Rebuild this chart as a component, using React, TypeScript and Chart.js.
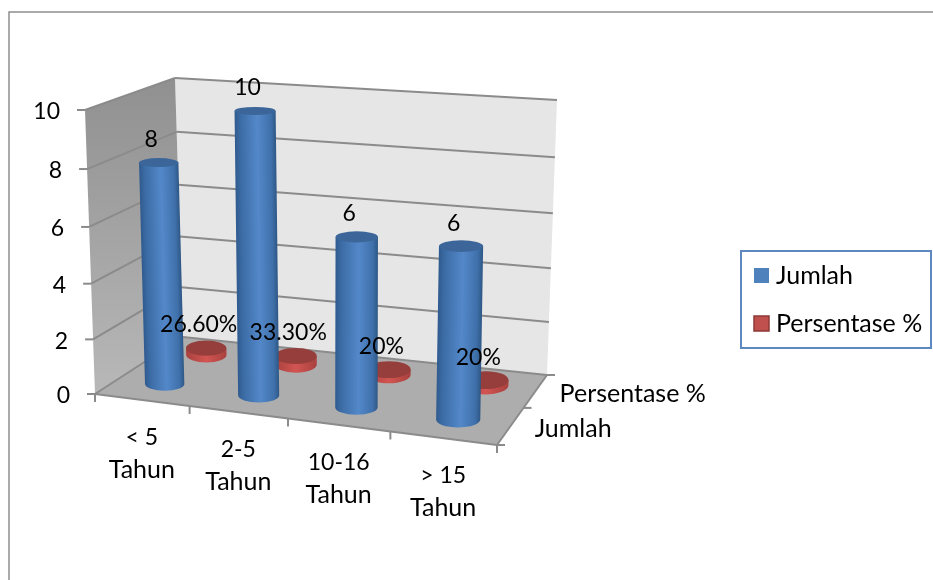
import React, { useEffect, useRef } from "react";
import { Chart, registerables } from "chart.js";

Chart.register(...registerables);

// Chart values
const categories = [["< 5", "Tahun"], ["2-5", "Tahun"], ["10-16", "Tahun"], ["> 15", "Tahun"]];
const jumlah = [8, 10, 6, 6];
const persentase = [0.266, 0.333, 0.2, 0.2];
const jumlahLabels = ["8", "10", "6", "6"];
const persentaseLabels = ["26.60%", "33.30%", "20%", "20%"];
const seriesNames = ["Jumlah", "Persentase %"];

const FONT = "Lato, 'Open Sans', sans-serif";
const LINE = "#8b8b8b";

// Corners of the 3D plot box on the canvas: front/back, left/right, bottom/top.
const BOX = {
  fbl: [95, 394], fbr: [497, 445], bbl: [183, 337], bbr: [547, 375],
  ftl: [85, 110], ftr: [503, 139], btl: [175, 78], btr: [557, 100],
};

// Foreshortening along each axis of the box.
const warp = (t: number, r: number) => t / (t + (1 - t) * r);
const lerp = (a: number, b: number, t: number) => a + (b - a) * t;
const mix = (p: number[], q: number[], t: number) => [lerp(p[0], q[0], t), lerp(p[1], q[1], t)];

// u: along categories, v: up the value axis, w: into the depth; all 0..1.
function project(u: number, v: number, w: number) {
  const U = warp(u, 1.083);
  const V = warp(v, 1.05);
  const W = warp(w, 0.887);
  const front = mix(mix(BOX.fbl, BOX.fbr, U), mix(BOX.ftl, BOX.ftr, U), V);
  const back = mix(mix(BOX.bbl, BOX.bbr, U), mix(BOX.btl, BOX.btr, U), V);
  return mix(front, back, W);
}

function poly(ctx: CanvasRenderingContext2D, pts: number[][]) {
  ctx.beginPath();
  pts.forEach((p, i) => (i ? ctx.lineTo(p[0], p[1]) : ctx.moveTo(p[0], p[1])));
  ctx.closePath();
}

function line(ctx: CanvasRenderingContext2D, a: number[], b: number[]) {
  ctx.beginPath();
  ctx.moveTo(a[0], a[1]);
  ctx.lineTo(b[0], b[1]);
  ctx.stroke();
}

type Palette = { cap: string; depth: number; stops: [number, string][] };
const BLUE: Palette = {
  cap: "#3c6699",
  depth: 0.11,
  stops: [[0, "#2f5a8e"], [0.14, "#3c6ca5"], [0.55, "#5388c9"], [0.88, "#3f70aa"], [1, "#2e5786"]],
};
const RED: Palette = {
  cap: "#953e3b",
  depth: 0.14,
  stops: [[0, "#a8413e"], [0.5, "#d25552"], [1, "#a8413e"]],
};

// A cylinder standing at (u, w) between the value positions vBase and vTop.
function drawCylinder(ctx: CanvasRenderingContext2D, u: number, du: number, w: number, vBase: number, vTop: number, pal: Palette) {
  const radii = (v: number) => ({
    c: project(u, v, w),
    rx: Math.abs(project(u + du, v, w)[0] - project(u - du, v, w)[0]) / 2,
    ry: Math.abs(project(u, v, w - pal.depth)[1] - project(u, v, w + pal.depth)[1]) / 2,
  });
  const b = radii(vBase);
  const t = radii(vTop);
  const h = b.c[1] - t.c[1];
  const rx = (b.rx + t.rx) / 2;
  const shear = (b.c[0] - t.c[0]) / h;

  ctx.save();
  ctx.translate(b.c[0], b.c[1]);
  ctx.transform(1, 0, shear, 1, 0, 0);
  const g = ctx.createLinearGradient(-rx, 0, rx, 0);
  pal.stops.forEach(([o, c]) => g.addColorStop(o, c));
  ctx.fillStyle = g;
  ctx.beginPath();
  ctx.moveTo(-rx, -h);
  ctx.lineTo(-rx, 0);
  ctx.ellipse(0, 0, rx, b.ry, 0, Math.PI, 0, true);
  ctx.lineTo(rx, -h);
  ctx.closePath();
  ctx.fill();
  ctx.fillStyle = pal.cap;
  ctx.beginPath();
  ctx.ellipse(0, -h, rx, t.ry, 0, 0, Math.PI * 2);
  ctx.fill();
  ctx.restore();
}

// Words run a little larger than numerals so their widths stay balanced.
function text(ctx: CanvasRenderingContext2D, s: string, x: number, y: number, align: CanvasTextAlign = "center") {
  ctx.font = `${/[A-Za-z]/.test(s) ? 25 : 23}px ${FONT}`;
  ctx.textAlign = align;
  ctx.textBaseline = "middle";
  ctx.fillText(s, x, y);
}

const box3d = {
  id: "box3d",
  // Outer frame, walls, floor, gridlines, axes and columns. Returning false
  // replaces the flat bars with the cylinders drawn here.
  beforeDatasetsDraw(chart: any) {
    const ctx: CanvasRenderingContext2D = chart.ctx;
    const yScale = chart.scales.y;
    const n = chart.data.labels.length;
    const toV = (val: number) => (val - yScale.min) / (yScale.max - yScale.min);

    ctx.save();
    ctx.strokeStyle = "#8e8e8e";
    ctx.lineWidth = 1.5;
    ctx.beginPath();
    ctx.moveTo(9, 580);
    ctx.lineTo(9, 12);
    ctx.lineTo(933, 12);
    ctx.stroke();

    ctx.fillStyle = "#e6e6e6";
    poly(ctx, [BOX.btl, BOX.btr, BOX.bbr, BOX.bbl]);
    ctx.fill();

    const wall = ctx.createLinearGradient(0, 78, 0, 394);
    wall.addColorStop(0, "#909090");
    wall.addColorStop(1, "#b8b8b8");
    ctx.fillStyle = wall;
    poly(ctx, [BOX.ftl, BOX.btl, BOX.bbl, BOX.fbl]);
    ctx.fill();

    ctx.fillStyle = "#adadad";
    poly(ctx, [BOX.fbl, BOX.fbr, BOX.bbr, BOX.bbl]);
    ctx.fill();

    ctx.strokeStyle = LINE;
    ctx.lineWidth = 2;
    yScale.ticks.forEach((tick: any) => {
      const v = toV(tick.value);
      const front = project(0, v, 0);
      line(ctx, [front[0] - 8, front[1]], front);
      line(ctx, front, project(0, v, 1));
      line(ctx, project(0, v, 1), project(1, v, 1));
    });
    line(ctx, project(0, 0, 0), project(1, 0, 0));
    line(ctx, project(1, 0, 0), project(1, 0, 1));
    for (let i = 0; i <= n; i++) {
      const p = project(i / n, 0, 0);
      line(ctx, p, [p[0], p[1] + 8]);
    }
    [0, 0.5, 1].forEach((w) => {
      const p = project(1, 0, w);
      line(ctx, p, [p[0] + 8, p[1]]);
    });

    // The depth rows are painted back to front.
    const area = chart.chartArea;
    [1, 0].forEach((ds) => {
      const w = (ds + 0.5) / 2;
      const pal = ds === 0 ? BLUE : RED;
      chart.getDatasetMeta(ds).data.forEach((el: any) => {
        const u = (el.x - area.left) / area.width;
        const du = el.width / area.width / 2;
        drawCylinder(ctx, u, du, w, (area.bottom - el.base) / area.height, (area.bottom - el.y) / area.height, pal);
      });
    });
    ctx.restore();
    return false;
  },
  // Axis text, value labels and legend above everything else.
  afterDraw(chart: any) {
    const ctx: CanvasRenderingContext2D = chart.ctx;
    const yScale = chart.scales.y;
    const area = chart.chartArea;
    const n = chart.data.labels.length;
    ctx.save();
    ctx.fillStyle = "#000";

    yScale.ticks.forEach((tick: any) => {
      const p = project(0, (tick.value - yScale.min) / (yScale.max - yScale.min), 0);
      text(ctx, String(tick.value), p[0] - 25, p[1] + 2, "right");
    });

    chart.data.labels.forEach((lab: string[], i: number) => {
      const p = project((i + 0.5) / n, 0, 0);
      lab.forEach((s, k) => text(ctx, s, p[0], p[1] + 37.5 + k * 32.5));
    });

    chart.data.datasets.forEach((d: any, ds: number) => {
      const w = (ds + 0.5) / 2;
      const p = project(1, 0, w);
      text(ctx, d.label, p[0] + 24, p[1] + 3, "left");
      const texts = ds === 0 ? jumlahLabels : persentaseLabels;
      chart.getDatasetMeta(ds).data.forEach((el: any, i: number) => {
        const u = (el.x - area.left) / area.width;
        const top = project(u, (area.bottom - el.y) / area.height, w);
        text(ctx, texts[i], top[0] - 7.5, top[1] - 23);
      });
    });

    // Legend
    ctx.strokeStyle = "#5d88c0";
    ctx.lineWidth = 2;
    ctx.strokeRect(741, 251, 190, 97);
    const swatchY = [275.5, 323.5];
    chart.data.datasets.forEach((d: any, ds: number) => {
      const y = swatchY[ds];
      ctx.fillStyle = d.backgroundColor;
      ctx.fillRect(754, y - 7.5, 15, 15);
      if (ds === 1) {
        ctx.strokeStyle = "#8c3836";
        ctx.lineWidth = 1.5;
        ctx.strokeRect(754, y - 7.5, 15, 15);
      }
      ctx.fillStyle = "#000";
      text(ctx, d.label, 776, y, "left");
    });
    ctx.restore();
  },
};

export default function App() {
  const ref = useRef<HTMLCanvasElement>(null);
  useEffect(() => {
    const chart = new Chart(ref.current!, {
      type: "bar",
      data: {
        labels: categories as any,
        datasets: [
          { label: seriesNames[0], data: jumlah, backgroundColor: "#4f81bd", grouped: false, barPercentage: 0.42, categoryPercentage: 1 } as any,
          { label: seriesNames[1], data: persentase, backgroundColor: "#c0504d", grouped: false, barPercentage: 0.46, categoryPercentage: 1 } as any,
        ],
      },
      options: {
        animation: false,
        responsive: false,
        devicePixelRatio: 1,
        events: [],
        layout: { padding: { left: 95, right: 436, top: 110, bottom: 186 } },
        plugins: { legend: { display: false }, title: { display: false }, tooltip: { enabled: false } },
        scales: {
          x: { display: false },
          y: { display: false, min: 0, max: 10, ticks: { stepSize: 2 } },
        },
      },
      plugins: [box3d],
    });
    return () => chart.destroy();
  }, []);
  return (
    <canvas
      ref={ref}
      width={933}
      height={580}
      style={{ position: "fixed", left: 0, top: 0, width: 933, height: 580, display: "block" }}
    />
  );
}
